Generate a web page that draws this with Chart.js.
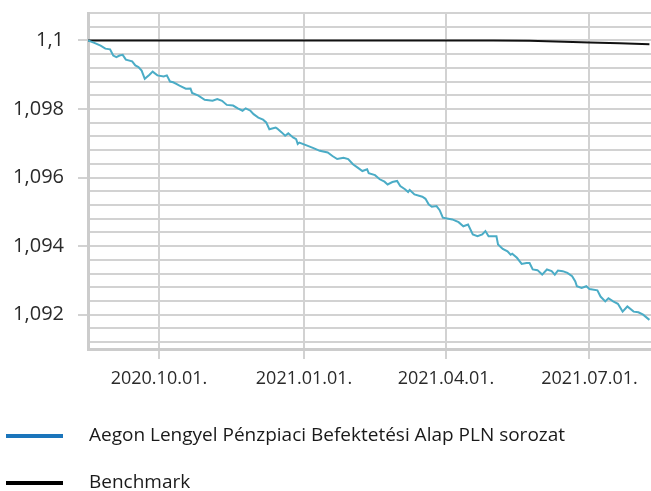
<!DOCTYPE html>
<html>
<head>
<meta charset="utf-8">
<script src="https://cdn.jsdelivr.net/npm/chart.js@4"></script>
<style>
  body { margin: 0; background: #fff; }
  canvas { display: block; }
</style>
</head>
<body>
<canvas id="chart" width="651" height="491"></canvas>
<script>
const seriesNames = ['Aegon Lengyel Pénzpiaci Befektetési Alap PLN sorozat', 'Benchmark'];
const lineColors = ['#4bacc6', '#111111'];
const legendColors = ['#1b75bb', '#000000'];

const fundDates = [
  '2020-08-17','2020-08-21','2020-08-25','2020-08-28','2020-08-31','2020-09-02','2020-09-04','2020-09-06',
  '2020-09-08','2020-09-10','2020-09-14','2020-09-16','2020-09-18','2020-09-20','2020-09-22','2020-09-25',
  '2020-09-27','2020-09-30','2020-10-04','2020-10-06','2020-10-08','2020-10-10','2020-10-12','2020-10-14',
  '2020-10-18','2020-10-21','2020-10-22','2020-10-26','2020-10-30','2020-11-04','2020-11-07','2020-11-10',
  '2020-11-13','2020-11-17','2020-11-20','2020-11-23','2020-11-25','2020-11-28','2020-11-30','2020-12-03',
  '2020-12-06','2020-12-08','2020-12-10','2020-12-14','2020-12-15','2020-12-18','2020-12-20','2020-12-22',
  '2020-12-25','2020-12-27','2020-12-28','2020-12-29','2021-01-03','2021-01-07','2021-01-11','2021-01-16',
  '2021-01-19','2021-01-22','2021-01-26','2021-01-29','2021-02-01','2021-02-04','2021-02-07','2021-02-10',
  '2021-02-11','2021-02-15','2021-02-18','2021-02-21','2021-02-23','2021-02-26','2021-03-01','2021-03-03',
  '2021-03-06','2021-03-08','2021-03-09','2021-03-12','2021-03-17','2021-03-19','2021-03-21','2021-03-23',
  '2021-03-26','2021-03-28','2021-03-30','2021-04-05','2021-04-09','2021-04-12','2021-04-15','2021-04-18',
  '2021-04-21','2021-04-24','2021-04-26','2021-04-28','2021-05-03','2021-05-04','2021-05-07','2021-05-10',
  '2021-05-12','2021-05-13','2021-05-16','2021-05-19','2021-05-22','2021-05-24','2021-05-26','2021-05-29',
  '2021-06-01','2021-06-04','2021-06-07','2021-06-09','2021-06-11','2021-06-14','2021-06-17','2021-06-20',
  '2021-06-22','2021-06-23','2021-06-26','2021-06-29','2021-07-01','2021-07-06','2021-07-08','2021-07-11',
  '2021-07-13','2021-07-16','2021-07-19','2021-07-22','2021-07-25','2021-07-29','2021-08-01','2021-08-04',
  '2021-08-08'
];
const fundValues = [
  1.10000,1.09993,1.09985,1.09976,1.09974,1.09956,1.09951,1.09956,
  1.09958,1.09944,1.09939,1.09927,1.09922,1.09912,1.09888,1.09900,
  1.09909,1.09898,1.09895,1.09898,1.09880,1.09878,1.09873,1.09868,
  1.09859,1.09860,1.09847,1.09839,1.09827,1.09824,1.09829,1.09824,
  1.09812,1.09810,1.09802,1.09795,1.09802,1.09795,1.09785,1.09775,
  1.09769,1.09761,1.09741,1.09746,1.09743,1.09731,1.09722,1.09729,
  1.09717,1.09712,1.09698,1.09702,1.09693,1.09686,1.09678,1.09673,
  1.09663,1.09654,1.09658,1.09654,1.09639,1.09629,1.09619,1.09624,
  1.09613,1.09607,1.09595,1.09588,1.09580,1.09587,1.09590,1.09575,
  1.09566,1.09558,1.09564,1.09551,1.09544,1.09538,1.09522,1.09515,
  1.09517,1.09505,1.09483,1.09478,1.09470,1.09458,1.09463,1.09434,
  1.09429,1.09434,1.09444,1.09429,1.09429,1.09405,1.09392,1.09385,
  1.09375,1.09378,1.09366,1.09348,1.09351,1.09351,1.09332,1.09330,
  1.09317,1.09332,1.09327,1.09317,1.09329,1.09327,1.09322,1.09312,
  1.09297,1.09283,1.09278,1.09283,1.09275,1.09271,1.09253,1.09239,
  1.09248,1.09239,1.09232,1.09209,1.09224,1.09209,1.09207,1.09200,
  1.09185
];

const benchDates = ['2020-08-17','2020-11-01','2021-02-01','2021-05-01','2021-05-24','2021-06-15','2021-07-01','2021-07-20','2021-08-08'];
const benchValues = [1.1, 1.1, 1.1, 1.1, 1.09999, 1.09996, 1.09994, 1.09992, 1.09989];

const xTickDates = ['2020-10-01', '2021-01-01', '2021-04-01', '2021-07-01'];
const xRange = ['2020-08-17', '2021-08-09'];
const yMin = 1.091, yMax = 1.1008, yStep = 0.0004, yLabelStep = 0.002;

const toDay = s => {
  const [y, m, d] = s.split('-').map(Number);
  return Date.UTC(y, m - 1, d) / 86400000;
};
const fmtDay = v => {
  const d = new Date(v * 86400000);
  const p = n => String(n).padStart(2, '0');
  return `${d.getUTCFullYear()}.${p(d.getUTCMonth() + 1)}.${p(d.getUTCDate())}.`;
};
const isMajor = v => Math.abs(Math.round(v * 10000) % Math.round(yLabelStep * 10000)) === 0;

const gridColor = '#d2d2d2';
const font = '"Open Sans", "Noto Sans", sans-serif';

const legendLines = {
  id: 'legendLines',
  afterDraw(chart) {
    const ctx = chart.ctx;
    const ys = [436, 483];
    ctx.save();
    chart.data.datasets.forEach((ds, i) => {
      ctx.strokeStyle = legendColors[i];
      ctx.lineWidth = 4;
      ctx.beginPath();
      ctx.moveTo(6, ys[i]);
      ctx.lineTo(63, ys[i]);
      ctx.stroke();
      ctx.fillStyle = '#1a1a1a';
      ctx.font = '19px ' + font;
      ctx.textBaseline = 'middle';
      ctx.fillText(ds.label, 89, ys[i]);
    });
    ctx.restore();
  }
};

new Chart(document.getElementById('chart'), {
  type: 'line',
  data: {
    datasets: [
      {
        label: seriesNames[0],
        data: fundDates.map((d, i) => ({ x: toDay(d), y: fundValues[i] })),
        borderColor: lineColors[0],
        borderWidth: 2,
        pointRadius: 0,
        tension: 0
      },
      {
        label: seriesNames[1],
        data: benchDates.map((d, i) => ({ x: toDay(d), y: benchValues[i] })),
        borderColor: lineColors[1],
        borderWidth: 2,
        pointRadius: 0,
        tension: 0
      }
    ]
  },
  options: {
    responsive: false,
    animation: false,
    layout: { padding: { top: 13, bottom: 92, left: 0, right: 0 } },
    plugins: { legend: { display: false }, tooltip: { enabled: false } },
    scales: {
      x: {
        type: 'linear',
        min: toDay(xRange[0]),
        max: toDay(xRange[1]),
        afterBuildTicks: s => { s.ticks = xTickDates.map(d => ({ value: toDay(d) })); },
        afterFit: s => { s.height = 50; s.paddingLeft = 0; s.paddingRight = 0; },
        ticks: {
          callback: v => fmtDay(v),
          font: { family: font, size: 18 },
          color: '#2a2a2a',
          padding: 9,
          maxRotation: 0,
          autoSkip: false
        },
        grid: { color: gridColor, lineWidth: 2, tickLength: 10, tickColor: gridColor },
        border: { color: '#cccccc', width: 3 }
      },
      y: {
        min: yMin,
        max: yMax,
        afterBuildTicks: s => {
          const t = [];
          for (let k = 0; yMax - k * yStep > yMin + 1e-9; k++) t.push({ value: +(yMax - k * yStep).toFixed(4) });
          t.push({ value: yMin });
          s.ticks = t.reverse();
        },
        afterFit: s => { s.width = 88; s.paddingTop = 0; s.paddingBottom = 0; },
        ticks: {
          callback: v => isMajor(v) ? String(+v.toFixed(3)).replace('.', ',') : '',
          font: { family: font, size: 20 },
          color: '#2a2a2a',
          padding: 14,
          autoSkip: false
        },
        grid: {
          color: gridColor,
          lineWidth: 2,
          tickLength: 10,
          tickColor: c => c.tick && isMajor(c.tick.value) ? gridColor : 'rgba(0,0,0,0)'
        },
        border: { color: '#cccccc', width: 3 }
      }
    }
  },
  plugins: [legendLines]
});
</script>
</body>
</html>
